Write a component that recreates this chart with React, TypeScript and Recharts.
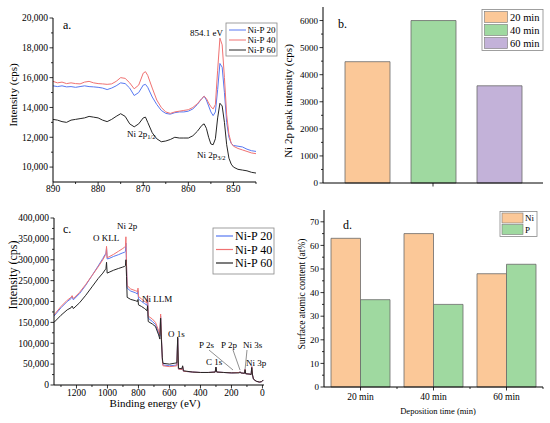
import React from "react";
import { LineChart, Line, BarChart, Bar, XAxis, YAxis } from "recharts";

const FONT = '"Liberation Serif", "Times New Roman", serif';

// ---- panel a: Ni 2p region (cps)
const energyA = [890, 889, 888, 887, 886, 885, 884, 883, 882, 881, 880, 879, 878, 877, 876, 875, 874, 873, 872, 871, 870, 869.5, 869, 868, 867, 866, 865, 864, 863, 862, 861, 860, 859, 858, 857, 856.5, 856, 855.5, 855, 854.5, 854, 853.5, 853, 852.5, 852, 851.5, 851, 850.5, 850, 849, 848, 847, 846, 845];
const ni20A = [15450, 15400, 15450, 15380, 15400, 15350, 15400, 15450, 15400, 15380, 15350, 15300, 15200, 15300, 15450, 15650, 15600, 15300, 14800, 15000, 15500, 15550, 15350, 14700, 14200, 13800, 13600, 13550, 13650, 13700, 13700, 13750, 13900, 14200, 14600, 14750, 14500, 14100, 13700, 13450, 13700, 15200, 16950, 16700, 15000, 13000, 12000, 11600, 11450, 11400, 11350, 11200, 11100, 11050];
const ni40A = [15750, 15650, 15700, 15600, 15650, 15600, 15580, 15700, 15750, 15650, 15600, 15580, 15550, 15580, 15750, 16000, 15950, 15650, 15250, 15500, 16300, 16400, 16150, 15300, 14500, 14000, 13700, 13600, 13700, 13750, 13800, 13850, 14000, 14250, 14600, 14750, 14600, 14300, 14050, 13900, 14200, 16500, 18650, 18200, 16000, 13500, 12200, 11600, 11400, 11250, 11150, 11050, 10950, 10900];
const ni60A = [13200, 13150, 13050, 13000, 13150, 13200, 13250, 13300, 13400, 13350, 13300, 13150, 13050, 13200, 13400, 13580, 13400, 12900, 12700, 12900, 13300, 13350, 13000, 12300, 11900, 11700, 11750, 11850, 12000, 11950, 11950, 11950, 12100, 12400, 12800, 12900, 12600, 12000, 11550, 11500, 11900, 13300, 14280, 14100, 13000, 11500, 10600, 10200, 10000, 9850, 9800, 9750, 9650, 9600];
const ticksAx = [890, 885, 880, 875, 870, 865, 860, 855, 850, 845];
const majorAx = [890, 880, 870, 860, 850];
const ticksAy = [10000, 11000, 12000, 13000, 14000, 15000, 16000, 17000, 18000, 19000, 20000];
const majorAy = [10000, 12000, 14000, 16000, 18000, 20000];

// ---- panel b: Ni 2p peak intensity
const peakLabels = ["20 min", "40 min", "60 min"];
const peakIntensity = [4480, 6000, 3590];
const peakColors = ["#fbc898", "#9fd9a0", "#c3b2d9"];
const ticksBy = [0, 500, 1000, 1500, 2000, 2500, 3000, 3500, 4000, 4500, 5000, 5500, 6000];
const majorBy = [0, 1000, 2000, 3000, 4000, 5000, 6000];

// ---- panel c: survey spectra (kcps)
const energyC = [1345, 1300, 1260, 1235, 1228, 1220, 1180, 1140, 1100, 1060, 1030, 1015, 1010, 1006, 1002, 990, 960, 930, 905, 890, 884, 881, 877, 873, 850, 820, 806, 803, 800, 780, 760, 745, 741, 737, 710, 690, 670, 662, 657, 652, 646, 642, 600, 570, 552, 547, 542, 520, 515, 510, 450, 400, 350, 305, 300, 295, 250, 200, 150, 144, 140, 116, 112, 108, 80, 73, 69, 64, 58, 40, 20, 5, -5];
const ni20C = [165, 185, 200, 207, 211, 204, 219, 239, 262, 285, 303, 313, 314, 328, 302, 303, 308, 312, 316, 318, 320, 340, 285, 232, 225, 221, 218, 226, 206, 200, 195, 191, 205, 160, 152, 145, 125, 117, 165, 115, 62, 48, 46, 47, 48, 112, 38, 37, 44, 33, 31, 30, 30, 31, 42, 31, 30, 29, 30, 32, 29, 28, 38, 27, 26, 25, 44, 24, 14, 9, 7, 8, 12];
const ni40C = [168, 188, 203, 210, 214, 207, 222, 241, 262, 283, 300, 310, 312, 332, 305, 307, 313, 320, 326, 330, 332, 355, 290, 238, 230, 226, 224, 232, 212, 206, 200, 197, 215, 165, 158, 150, 130, 120, 170, 118, 60, 46, 44, 45, 46, 112, 38, 37, 44, 33, 31, 30, 30, 31, 42, 31, 30, 29, 30, 32, 29, 28, 38, 27, 26, 25, 44, 24, 14, 9, 7, 8, 12];
const ni60C = [150, 167, 180, 185, 189, 183, 197, 215, 235, 255, 268, 276, 278, 294, 268, 270, 275, 279, 282, 284, 286, 300, 260, 210, 205, 202, 200, 205, 192, 188, 183, 178, 190, 152, 146, 140, 120, 110, 160, 108, 65, 52, 50, 52, 53, 115, 40, 39, 46, 34, 31, 30, 30, 31, 43, 31, 30, 29, 29, 31, 29, 28, 36, 27, 26, 25, 42, 24, 14, 9, 7, 8, 12];
const ticksCx = [0, 100, 200, 300, 400, 500, 600, 700, 800, 900, 1000, 1100, 1200, 1300];
const majorCx = [0, 200, 400, 600, 800, 1000, 1200];
const ticksCy = [0, 25, 50, 75, 100, 125, 150, 175, 200, 225, 250, 275, 300, 325, 350, 375, 400];
const majorCy = [0, 50, 100, 150, 200, 250, 300, 350, 400];

// ---- panel d: surface atomic content (at%)
const depoTimes = ["20 min", "40 min", "60 min"];
const niContent = [63, 65, 48];
const pContent = [37, 35, 52];
const ticksDy = [0, 5, 10, 15, 20, 25, 30, 35, 40, 45, 50, 55, 60, 65, 70];
const majorDy = [0, 10, 20, 30, 40, 50, 60, 70];

const spectra = [
  { key: "p20", name: "Ni-P 20", color: "#5878f2" },
  { key: "p40", name: "Ni-P 40", color: "#f07272" },
  { key: "p60", name: "Ni-P 60", color: "#262626" },
];
const elements = [
  { key: "ni", name: "Ni", color: "#fbc898" },
  { key: "p", name: "P", color: "#9fd9a0" },
];

const rowsA = energyA.map((e, i) => ({ e, p20: ni20A[i], p40: ni40A[i], p60: ni60A[i] }));
const rowsB = [{ name: "", b0: peakIntensity[0], b1: peakIntensity[1], b2: peakIntensity[2] }];
const rowsC = energyC.map((e, i) => ({ e, p20: ni20C[i], p40: ni40C[i], p60: ni60C[i] }));
const rowsD = depoTimes.map((t, i) => ({ t, ni: niContent[i], p: pContent[i] }));

const axisLine = { stroke: "#000", strokeWidth: 1 };
const thousands = (v: number) => v.toLocaleString("en-US");

type TickOpts = {
  side: "left" | "bottom";
  majors?: number[];
  fmt?: (v: any) => string;
  size?: number;
  gap?: number;
  label?: boolean;
  half?: number; // draw minor ticks at band edges (category axes)
};

const tick = (o: TickOpts) => (p: any) => {
  const { x, y, payload } = p;
  const v = payload.value;
  const isMajor = !o.majors || o.majors.includes(v);
  const len = isMajor ? 3.5 : 2;
  const size = o.size ?? 9.5;
  const show = o.label !== false && isMajor;
  const txt = o.fmt ? o.fmt(v) : String(v);
  if (o.side === "left") {
    return (
      <g>
        <line x1={x - len} x2={x} y1={y} y2={y} stroke="#000" strokeWidth={0.8} />
        {show && (
          <text x={x - 5} y={y} dy="0.35em" textAnchor="end" fontSize={size} fontFamily={FONT} fill="#000">
            {txt}
          </text>
        )}
      </g>
    );
  }
  return (
    <g>
      <line x1={x} x2={x} y1={y} y2={y + len} stroke="#000" strokeWidth={0.8} />
      {o.half && <line x1={x + o.half} x2={x + o.half} y1={y} y2={y + 2} stroke="#000" strokeWidth={0.8} />}
      {show && (
        <text x={x} y={y + (o.gap ?? 4)} dy="0.75em" textAnchor="middle" fontSize={size} fontFamily={FONT} fill="#000">
          {txt}
        </text>
      )}
    </g>
  );
};

function Title({ x, y, text, size = 11, rotate = false }: { x: number; y: number; text: string; size?: number; rotate?: boolean }) {
  return (
    <text
      x={x}
      y={y}
      textAnchor="middle"
      dominantBaseline="central"
      fontSize={size}
      fontFamily={FONT}
      transform={rotate ? `rotate(-90 ${x} ${y})` : undefined}
    >
      {text}
    </text>
  );
}

function Overlay() {
  const t = (x: number, y: number, s: string, size = 9, weight = "normal") => (
    <text x={x} y={y} fontSize={size} fontFamily={FONT} fontWeight={weight}>
      {s}
    </text>
  );
  return (
    <svg width={550} height={423} style={{ position: "absolute", left: 0, top: 0, pointerEvents: "none" }}>
      {/* axis titles */}
      <Title x={13} y={95} text="Intensity (cps)" rotate />
      <Title x={288} y={101} text="Ni 2p peak intensity (cps)" rotate />
      <Title x={13} y={275} text="Intensity (cps)" size={12} rotate />
      <Title x={155} y={403} text="Binding energy (eV)" size={11} />
      <Title x={302} y={294} text="Surface atomic content (at%)" size={9.5} rotate />
      <Title x={438} y={411} text="Deposition time (min)" size={8.5} />

      {/* panel letters */}
      {t(63, 29, "a.", 12)}
      {t(338, 28, "b.", 12)}
      {t(63, 233, "c.", 12)}
      {t(343, 229, "d.", 12)}

      {/* panel a notes */}
      {t(190, 36, "854.1 eV")}
      <text x={127} y={137} fontSize={9} fontFamily={FONT}>
        Ni 2p<tspan fontSize={6.5} dy={2}>1/2</tspan>
      </text>
      <text x={197} y={158} fontSize={9} fontFamily={FONT}>
        Ni 2p<tspan fontSize={6.5} dy={2}>3/2</tspan>
      </text>

      {/* panel c notes */}
      {t(93, 241, "O KLL")}
      {t(117, 229, "Ni 2p")}
      {t(142, 302, "Ni LLM")}
      {t(168, 337, "O 1s")}
      {t(199, 348, "P 2s")}
      {t(221, 348, "P 2p")}
      {t(243, 348, "Ni 3s")}
      {t(206, 365, "C 1s")}
      {t(246, 366, "Ni 3p")}
      <line x1={209} y1={350} x2={233} y2={370} stroke="#444" strokeWidth={0.6} />
      <line x1={233} y1={350} x2={240} y2={370} stroke="#444" strokeWidth={0.6} />
      <line x1={247} y1={350} x2={245} y2={370} stroke="#444" strokeWidth={0.6} />

      {/* legend a */}
      <rect x={226} y={23} width={51} height={33} fill="#fff" stroke="#888" strokeWidth={0.8} />
      {spectra.map((s, i) => (
        <g key={s.key}>
          <line x1={229} x2={246} y1={30 + i * 10} y2={30 + i * 10} stroke={s.color} strokeWidth={1} />
          <text x={247.5} y={30 + i * 10} dy="0.35em" fontSize={9} fontFamily={FONT}>
            {s.name}
          </text>
        </g>
      ))}

      {/* legend b */}
      <rect x={482} y={9.5} width={61} height={41} fill="#fff" stroke="#888" strokeWidth={0.8} />
      {peakLabels.map((l, i) => (
        <g key={l}>
          <rect x={484.5} y={11.5 + i * 13} width={23} height={11} fill={peakColors[i]} stroke="#777" strokeWidth={0.6} />
          <text x={510} y={17 + i * 13} dy="0.35em" fontSize={10.5} fontFamily={FONT}>
            {l}
          </text>
        </g>
      ))}

      {/* legend c */}
      <rect x={213} y={228} width={61} height={46} fill="#fff" stroke="#888" strokeWidth={0.8} />
      {spectra.map((s, i) => (
        <g key={s.key}>
          <line x1={216} x2={233} y1={236 + i * 13.5} y2={236 + i * 13.5} stroke={s.color} strokeWidth={1.2} />
          <text x={235} y={236 + i * 13.5} dy="0.35em" fontSize={12} fontFamily={FONT}>
            {s.name}
          </text>
        </g>
      ))}

      {/* legend d */}
      <rect x={500} y={211.5} width={37} height={25} fill="#fff" stroke="#888" strokeWidth={0.8} />
      {elements.map((el, i) => (
        <g key={el.key}>
          <rect x={502} y={213 + i * 11.5} width={21} height={10} fill={el.color} stroke="#777" strokeWidth={0.6} />
          <text x={525} y={218 + i * 11.5} dy="0.35em" fontSize={9} fontFamily={FONT}>
            {el.name}
          </text>
        </g>
      ))}
    </svg>
  );
}

function PanelA() {
  return (
    <LineChart width={275} height={215} data={rowsA} margin={{ top: 18, right: 19, left: 0, bottom: 0 }}>
      <XAxis
        dataKey="e"
        type="number"
        domain={[845, 890]}
        reversed
        ticks={ticksAx}
        interval={0}
        height={33}
        tickSize={0}
        tickMargin={0}
        tickLine={false}
        axisLine={axisLine}
        tick={tick({ side: "bottom", majors: majorAx, gap: 3 })}
      />
      <YAxis
        type="number"
        domain={[9000, 20000]}
        ticks={ticksAy}
        interval={0}
        width={53}
        tickSize={0}
        tickMargin={0}
        tickLine={false}
        axisLine={axisLine}
        tick={tick({ side: "left", majors: majorAy, fmt: thousands })}
      />
      {spectra.map((s) => (
        <Line key={s.key} dataKey={s.key} type="linear" stroke={s.color} strokeWidth={1} dot={false} isAnimationActive={false} />
      ))}
    </LineChart>
  );
}

function PanelB() {
  return (
    <BarChart width={275} height={215} data={rowsB} margin={{ top: 7, right: 7, left: 0, bottom: 0 }} barGap={21}>
      <XAxis
        dataKey="name"
        height={32}
        tickSize={0}
        tickMargin={0}
        tickLine={false}
        axisLine={axisLine}
        tick={tick({ side: "bottom", label: false })}
      />
      <YAxis
        type="number"
        domain={[0, 6500]}
        ticks={ticksBy}
        interval={0}
        width={48}
        tickSize={0}
        tickMargin={0}
        tickLine={false}
        axisLine={axisLine}
        tick={tick({ side: "left", majors: majorBy, size: 9 })}
      />
      {peakLabels.map((l, i) => (
        <Bar key={l} dataKey={`b${i}`} name={l} fill={peakColors[i]} stroke="#6a6a6a" strokeWidth={0.8} barSize={45} isAnimationActive={false} />
      ))}
    </BarChart>
  );
}

function PanelC() {
  return (
    <LineChart width={275} height={213} data={rowsC} margin={{ top: 8, right: 11, left: 0, bottom: 0 }}>
      <XAxis
        dataKey="e"
        type="number"
        domain={[-10, 1345]}
        reversed
        ticks={ticksCx}
        interval={0}
        height={38}
        tickSize={0}
        tickMargin={0}
        tickLine={false}
        axisLine={axisLine}
        tick={tick({ side: "bottom", majors: majorCx, gap: 4 })}
      />
      <YAxis
        type="number"
        domain={[0, 400]}
        ticks={ticksCy}
        interval={0}
        width={54}
        tickSize={0}
        tickMargin={0}
        tickLine={false}
        axisLine={axisLine}
        tick={tick({ side: "left", majors: majorCy, fmt: (v) => (v === 0 ? "0" : `${v},000`) })}
      />
      {spectra.map((s) => (
        <Line key={s.key} dataKey={s.key} type="linear" stroke={s.color} strokeWidth={1} dot={false} isAnimationActive={false} />
      ))}
    </LineChart>
  );
}

function PanelD() {
  return (
    <BarChart width={275} height={218} data={rowsD} margin={{ top: 5, right: 7, left: 0, bottom: 0 }} barGap={0}>
      <XAxis
        dataKey="t"
        height={36}
        interval={0}
        tickSize={0}
        tickMargin={0}
        tickLine={false}
        axisLine={axisLine}
        tick={tick({ side: "bottom", size: 9.5, gap: 6, half: 36.5 })}
      />
      <YAxis
        type="number"
        domain={[0, 75]}
        ticks={ticksDy}
        interval={0}
        width={49}
        tickSize={0}
        tickMargin={0}
        tickLine={false}
        axisLine={axisLine}
        tick={tick({ side: "left", majors: majorDy, size: 9 })}
      />
      {elements.map((el) => (
        <Bar key={el.key} dataKey={el.key} name={el.name} fill={el.color} stroke="#6a6a6a" strokeWidth={0.8} barSize={29.5} isAnimationActive={false} />
      ))}
    </BarChart>
  );
}

export default function App() {
  return (
    <div style={{ position: "absolute", left: 0, top: 0, width: 550, height: 423, background: "#fff", fontFamily: FONT }}>
      <div style={{ position: "absolute", left: 0, top: 0 }}>
        <PanelA />
      </div>
      <div style={{ position: "absolute", left: 275, top: 0 }}>
        <PanelB />
      </div>
      <div style={{ position: "absolute", left: 0, top: 210 }}>
        <PanelC />
      </div>
      <div style={{ position: "absolute", left: 275, top: 205 }}>
        <PanelD />
      </div>
      <Overlay />
    </div>
  );
}
